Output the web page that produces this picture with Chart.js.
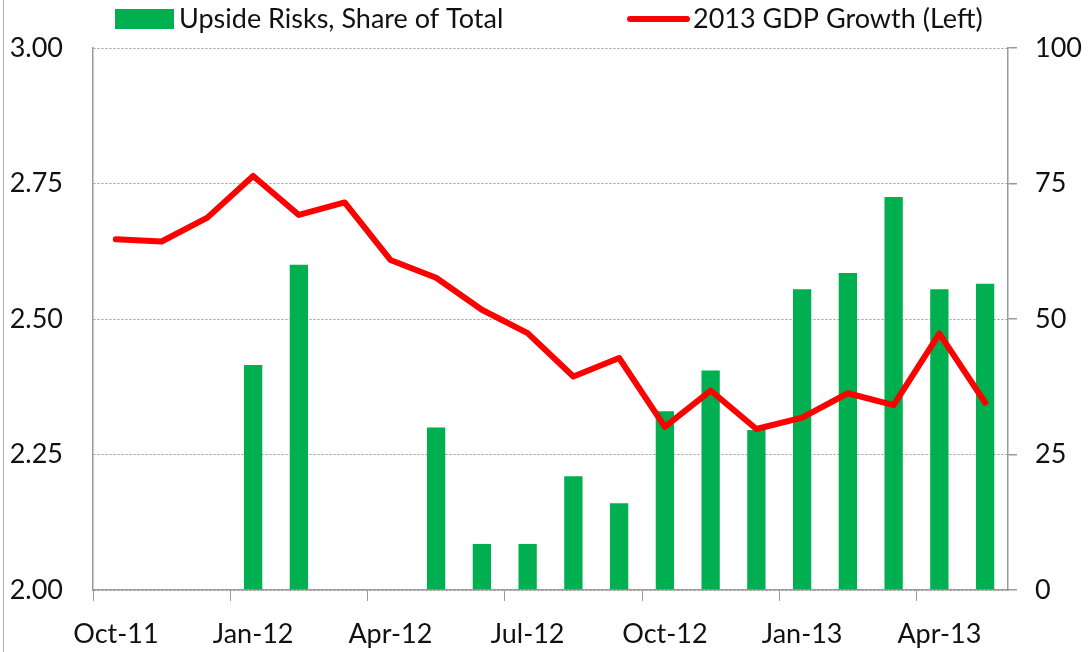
<!DOCTYPE html>
<html><head><meta charset="utf-8">
<script src="https://cdn.jsdelivr.net/npm/chart.js@4"></script>
<style>html,body{margin:0;padding:0;background:#fff;overflow:hidden}canvas{display:block}</style>
</head><body>
<canvas id="c" width="1088" height="652"></canvas>
<script>
const months = ['Oct-11','Nov-11','Dec-11','Jan-12','Feb-12','Mar-12','Apr-12','May-12','Jun-12','Jul-12','Aug-12','Sep-12','Oct-12','Nov-12','Dec-12','Jan-13','Feb-13','Mar-13','Apr-13','May-13'];
const upsideRiskShare = [null,null,null,41.5,60,null,null,30,8.5,8.5,21,16,33,40.5,29.5,55.5,58.5,72.5,55.5,56.5];
const gdpGrowth2013 = [2.647,2.643,2.687,2.764,2.692,2.715,2.609,2.576,2.517,2.474,2.394,2.428,2.301,2.368,2.297,2.318,2.363,2.341,2.473,2.346];
const leftTicks = [2.00,2.25,2.50,2.75,3.00];
const rightTicks = [0,25,50,75,100];
const shownLabels = ['Oct-11','Jan-12','Apr-12','Jul-12','Oct-12','Jan-13','Apr-13'];
const seriesNames = ['Upside Risks, Share of Total','2013 GDP Growth (Left)'];

const FONT = 'Lato';
const FSIZE = 27;
const AXIS = '#9a9a9a';
const TEXT = '#111';

const legendPlugin = {
  id: 'customLegend',
  afterDraw(chart) {
    const ctx = chart.ctx;
    const ds = chart.data.datasets;
    ctx.save();
    ctx.font = FSIZE + 'px ' + FONT;
    ctx.textBaseline = 'middle';
    ctx.textAlign = 'left';
    ctx.fillStyle = ds[0].backgroundColor;
    ctx.fillRect(115, 9, 59, 20);
    ctx.fillStyle = TEXT;
    ctx.fillText(ds[0].label, 179, 19);
    ctx.strokeStyle = ds[1].borderColor;
    ctx.lineWidth = 6;
    ctx.lineCap = 'round';
    ctx.beginPath();
    ctx.moveTo(630, 19); ctx.lineTo(687, 19);
    ctx.stroke();
    ctx.fillText(ds[1].label, 693, 19);
    ctx.strokeStyle = '#b0b0b0';
    ctx.lineWidth = 1;
    ctx.beginPath();
    ctx.moveTo(3.5, 0); ctx.lineTo(3.5, 652);
    ctx.stroke();
    ctx.restore();
  }
};

new Chart(document.getElementById('c'), {
  type: 'bar',
  data: {
    labels: months,
    datasets: [
      {
        type: 'bar',
        label: seriesNames[0],
        data: upsideRiskShare,
        yAxisID: 'y1',
        backgroundColor: '#00B050',
        borderWidth: 0,
        barPercentage: 0.4,
        categoryPercentage: 1.0,
        order: 2
      },
      {
        type: 'line',
        label: seriesNames[1],
        data: gdpGrowth2013,
        yAxisID: 'y',
        borderColor: '#FF0000',
        backgroundColor: '#FF0000',
        borderWidth: 6,
        pointRadius: 0,
        tension: 0,
        borderJoinStyle: 'round',
        borderCapStyle: 'round',
        order: 1
      }
    ]
  },
  options: {
    responsive: false,
    animation: false,
    devicePixelRatio: 1,
    layout: { padding: { top: 48, left: 0, right: 0, bottom: 0 } },
    plugins: { legend: { display: false }, tooltip: { enabled: false } },
    scales: {
      x: {
        type: 'category',
        offset: true,
        grid: {
          offset: true,
          drawOnChartArea: false,
          tickLength: 11,
          lineWidth: 1,
          tickColor: (c) => (c.index % 3 === 0 ? AXIS : 'rgba(0,0,0,0)')
        },
        border: { color: AXIS, width: 1.5 },
        ticks: {
          autoSkip: false,
          maxRotation: 0,
          padding: 17,
          color: TEXT,
          font: { family: FONT, size: FSIZE },
          callback: (v, i) => (shownLabels.includes(months[i]) ? months[i] : '')
        },
        afterFit: (s) => { s.height = 62; }
      },
      y: {
        position: 'left',
        min: 2, max: 3,
        afterBuildTicks: (s) => { s.ticks = leftTicks.map(v => ({ value: v })); },
        ticks: {
          padding: 30,
          color: TEXT,
          font: { family: FONT, size: FSIZE },
          callback: (v) => Number(v).toFixed(2)
        },
        grid: { drawTicks: false, color: AXIS, lineWidth: 1 },
        border: { color: AXIS, width: 1.5, dash: [2, 2] },
        afterFit: (s) => { s.width = 93; }
      },
      y1: {
        position: 'right',
        min: 0, max: 100,
        afterBuildTicks: (s) => { s.ticks = rightTicks.map(v => ({ value: v })); },
        ticks: {
          padding: 18,
          color: TEXT,
          font: { family: FONT, size: FSIZE }
        },
        grid: { drawOnChartArea: false, tickLength: 9, color: AXIS, lineWidth: 1.5 },
        border: { color: AXIS, width: 1.5 },
        afterFit: (s) => { s.width = 80; }
      }
    }
  },
  plugins: [legendPlugin]
});
</script>
</body></html>
